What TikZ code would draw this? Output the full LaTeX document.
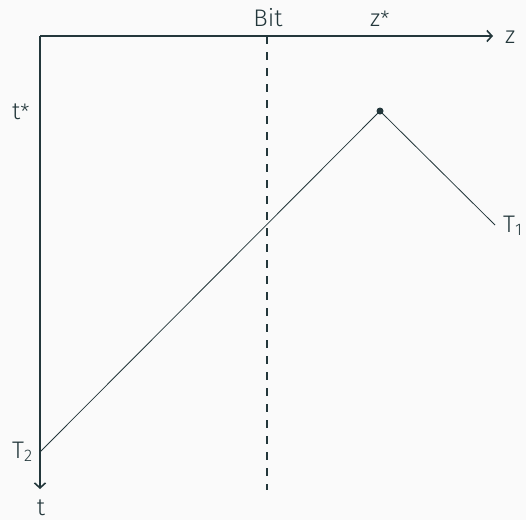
\documentclass[tikz,border=0pt]{standalone}
\usepackage{fontspec}
\setmainfont{Fira Sans Light}
\usetikzlibrary{arrows.meta}
\definecolor{mdark}{HTML}{23373B}
\definecolor{mbg}{HTML}{FAFAFA}
\newcommand{\starmark}{{\fontsize{21}{21}\selectfont *}}
\tikzset{
  axis/.style={draw=mdark, line width=1.6pt, -{Straight Barb[length=5pt,width=11pt,line width=1.6pt]}},
  guide/.style={draw=mdark, line width=1.6pt, dash pattern=on 8pt off 8pt},
  curve/.style={draw=mdark, line width=0.8pt},
  lbl/.style={inner sep=0pt, anchor=base west, text=mdark, font=\fontsize{24}{28}\selectfont},
}
\begin{document}
\begin{tikzpicture}[x=1pt,y=-1pt]
\fill[mbg] (0,0) rectangle (526,520);
\useasboundingbox (0,0) rectangle (526,520);
\coordinate (O) at (40,36);
\coordinate (zend) at (493,36);
\coordinate (tend) at (40,489);
\coordinate (btop) at (267,36);
\coordinate (bbot) at (267,490);
\coordinate (peak) at (380,111);
\coordinate (p1) at (495,225);
\coordinate (p2) at (40,452);
\draw[guide] (btop) -- (bbot);
\draw[axis] (O) -- (zend);
\draw[axis] (O) -- (tend);
\draw[curve] (p2) -- (peak) -- (p1);
\fill[mdark] (peak) circle (3.5pt);
\node[lbl, anchor=base] (bit) at (268,26) {Bit};
\node[lbl] (zs) at (370,26) {z\starmark};
\node[lbl] (zl) at (505,43) {z};
\node[lbl] (ts) at (12,119) {t\starmark};
\node[lbl] (T1) at (503,232) {T\textsubscript{1}};
\node[lbl] (T2) at (12,458) {T\textsubscript{2}};
\node[lbl, anchor=base] (tl) at (41,515) {t};
\end{tikzpicture}
\end{document}
